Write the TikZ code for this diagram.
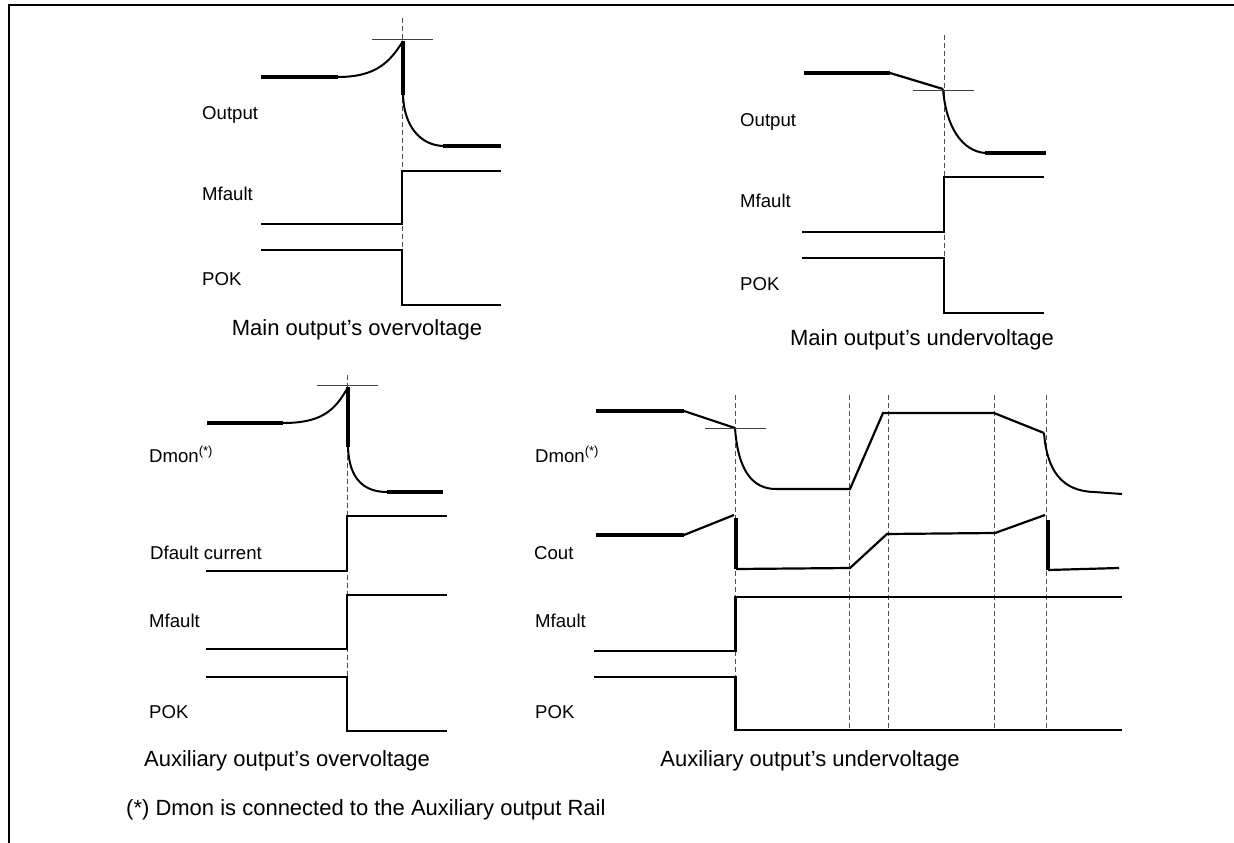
\documentclass[tikz,border=0pt]{standalone}
\usepackage{fontspec}
\setmainfont{Liberation Sans}
\usepackage{tikz}
\usetikzlibrary{positioning}

\begin{document}
\begin{tikzpicture}[x=1pt,y=-1pt]
        \tikzstyle{wave} = [line width=2.2pt, line join=miter]
        \tikzstyle{flat} = [line width=3.3pt]
        \tikzstyle{curve} = [line width=2pt]
        \tikzstyle{peakline} = [line width=0.9pt, black!75]
        \tikzstyle{cursor} = [line width=1pt, black!70, dash pattern=on 5pt off 3pt]
        \tikzstyle{sig} = [anchor=base west, inner sep=0pt, font=\fontsize{18.6}{22}\selectfont]
        \tikzstyle{caption} = [anchor=base, inner sep=0pt, font=\fontsize{22}{26}\selectfont]
        \useasboundingbox (0,0) rectangle (1234,843);
        % frame
        \draw[line width=2pt] (9,843) -- (9,5) -- (1234,5);

        % main output's overvoltage
        \draw[cursor] (402,18) -- (402,305);
        \draw[flat] (261,77) -- (338,77);
        \draw[curve] (338,77) .. controls (376,77) and (390,62) .. (403,41);
        \draw[flat] (403,41) -- (403,95);
        \draw[curve] (403,95) .. controls (404,126) and (420,145) .. (443,146);
        \draw[flat] (443,146) -- (501,146);
        \draw[peakline] (372,39) -- (433,39);
        \draw[wave] (261,224) -- (402,224) -- (402,171) -- (501,171);
        \draw[wave] (261,250) -- (402,250) -- (402,305) -- (501,305);
        \node [sig] (tlout) at (202,119) {Output};
        \node [sig] (tlmf) at (202,200) {Mfault};
        \node [sig] (tlpok) at (202,285) {POK};
        \node [caption] (tlcap) at (357,335) {Main output’s overvoltage};

        % main output's undervoltage
        \draw[cursor] (944,35) -- (944,313);
        \draw[flat] (804,73) -- (890,73);
        \draw[wave] (890,73) -- (943,89);
        \draw[curve] (943,89) .. controls (946,127) and (962,151) .. (985,153);
        \draw[flat] (985,153) -- (1046,153);
        \draw[peakline] (913,90) -- (974,90);
        \draw[wave] (802,232) -- (944,232) -- (944,177) -- (1044,177);
        \draw[wave] (802,258) -- (944,258) -- (944,313) -- (1044,313);
        \node [sig] (trout) at (740,126) {Output};
        \node [sig] (trmf) at (740,207) {Mfault};
        \node [sig] (trpok) at (740,290) {POK};
        \node [caption] (trcap) at (922,345) {Main output’s undervoltage};

        % auxiliary output's overvoltage
        \draw[cursor] (347,375) -- (347,731);
        \draw[flat] (207,423) -- (283,423);
        \draw[curve] (283,423) .. controls (321,423) and (335,411) .. (348,387);
        \draw[flat] (348,387) -- (348,447);
        \draw[curve] (348,447) .. controls (349,480) and (365,492) .. (387,492);
        \draw[flat] (387,492) -- (443,492);
        \draw[peakline] (317,385) -- (378,385);
        \draw[wave] (206,571) -- (347,571) -- (347,516) -- (447,516);
        \draw[wave] (206,649) -- (347,649) -- (347,595) -- (447,595);
        \draw[wave] (206,677) -- (347,677) -- (347,731) -- (447,731);
        \node [sig] (bldmon) at (149,462) {Dmon\textsuperscript{(*)}};
        \node [sig] (bldf) at (150,559) {Dfault current};
        \node [sig] (blmf) at (149,627) {Mfault};
        \node [sig] (blpok) at (149,718) {POK};
        \node [caption] (blcap) at (287,766) {Auxiliary output’s overvoltage};

        % auxiliary output's undervoltage
        \foreach \t in {735.5,849.6,888,994.3,1046}
            \draw[cursor] (\t,395) -- (\t,730);
        \draw[flat] (596,411) -- (684,411);
        \draw[wave] (684,411) -- (735,428);
        \draw[curve] (735,428) .. controls (738,470) and (752,489) .. (776,489);
        \draw[wave] (776,489) -- (850,489) -- (883,413) -- (994,413) -- (1044,433);
        \draw[curve] (1044,433) .. controls (1047,471) and (1062,491) .. (1094,492);
        \draw[curve] (1094,492) -- (1122,494);
        \draw[peakline] (705,428) -- (766,428);
        \draw[flat] (596,535) -- (684,535);
        \draw[wave] (684,535) -- (734,515);
        \draw[flat] (736,518) -- (736,569);
        \draw[wave] (736,569) -- (850,568) -- (887,534) -- (995,533) -- (1045,515);
        \draw[flat] (1048,520) -- (1048,570);
        \draw[wave] (1048,570) -- (1119,568);
        \draw[wave] (594,651) -- (735.5,651) -- (735.5,597) -- (1122,597);
        \draw[wave] (594,677) -- (735.5,677) -- (735.5,730) -- (1122,730);
        \node [sig] (brdmon) at (535,462) {Dmon\textsuperscript{(*)}};
        \node [sig] (brcout) at (534,559) {Cout};
        \node [sig] (brmf) at (535,627) {Mfault};
        \node [sig] (brpok) at (535,718) {POK};
        \node [caption] (brcap) at (810,766) {Auxiliary output’s undervoltage};

        % note
        \node [caption, anchor=base west] (note) at (126,815) {(*) Dmon is connected to the Auxiliary output Rail};
\end{tikzpicture}
\end{document}
